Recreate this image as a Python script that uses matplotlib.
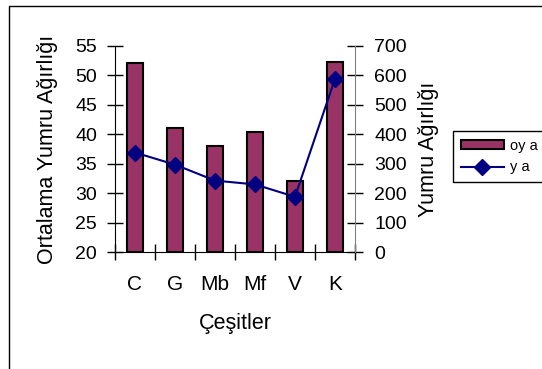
import matplotlib.pyplot as plt
from matplotlib.patches import Rectangle
import numpy as np

plt.rcParams['font.family'] = ['Liberation Sans', 'DejaVu Sans']

# veriler
cesitler = ['C', 'G', 'Mb', 'Mf', 'V', 'K']
ort_agirlik = [52, 41, 38, 40.3, 32, 52.3]     # sol eksen (çubuk)
yumru_agirlik = [338, 297, 243, 230, 188, 588]  # sağ eksen (çizgi)
etiketler = ['oy a', 'y a']

W, H = 542, 369

fig = plt.figure(figsize=(W / 100, H / 100), dpi=100)
# grafik alanı çerçevesi (sağ ve alt kenar resmin dışında kalıyor)
fig.patches.append(Rectangle((8.6 / W, -0.1), 1.2, 1.1 - 6 / H,
                             transform=fig.transFigure, fill=False,
                             edgecolor='black', linewidth=1.0, clip_on=False))

ax = fig.add_axes([115 / W, 1 - 252.3 / H, (355 - 115) / W, (252.3 - 45.7) / H])
x = np.arange(len(cesitler))
cubuk = ax.bar(x, [v - 20 for v in ort_agirlik], bottom=20, width=0.4,
               color='#993366', edgecolor='black', linewidth=1.5, zorder=2)
ax.set_xlim(-0.5, 5.5)
ax.set_ylim(20, 55)
ax.set_yticks(range(20, 56, 5))
ax.set_xticks(np.arange(-0.5, 6, 1))
ax.set_xticklabels([])
ax.set_xticks(x, minor=True)
ax.set_xticklabels(cesitler, minor=True, fontsize=15)
ax.tick_params(axis='x', which='minor', length=0, pad=16)
ax.tick_params(axis='x', which='major', direction='inout', length=12, width=1)
ax.tick_params(axis='y', direction='inout', length=12, width=1, labelsize=14, pad=7)
for s in ['top', 'right']:
    ax.spines[s].set_visible(False)
ax.set_ylabel('Ortalama Yumru Ağırlığı', fontsize=15.5, labelpad=12)
ax.set_xlabel('Çeşitler', fontsize=15.5, labelpad=14)

ax2 = ax.twinx()
cizgi, = ax2.plot(x, yumru_agirlik, color='#000080', linewidth=1.5,
                  marker='D', markersize=8.5, zorder=3)
ax2.set_ylim(0, 700)
ax2.set_yticks(range(0, 701, 100))
ax2.tick_params(axis='y', direction='inout', length=12, width=1, labelsize=14, pad=8)
for s in ['top', 'left', 'bottom']:
    ax2.spines[s].set_visible(False)
ax2.spines['right'].set_color('#808080')
ax2.set_ylabel('Yumru Ağırlığı', fontsize=15.5, labelpad=8)

fig.legend([cubuk, cizgi], etiketler, loc='upper left', mode='expand',
           bbox_to_anchor=(452.5 / W, 0, 0.3, 1 - 131 / H), fontsize=10.5,
           frameon=True, fancybox=False, edgecolor='black', framealpha=1,
           handlelength=3.0, handleheight=0.55, handletextpad=0.4,
           borderpad=0.55, labelspacing=0.5, borderaxespad=0)

fig.savefig('out.png', dpi=100)
